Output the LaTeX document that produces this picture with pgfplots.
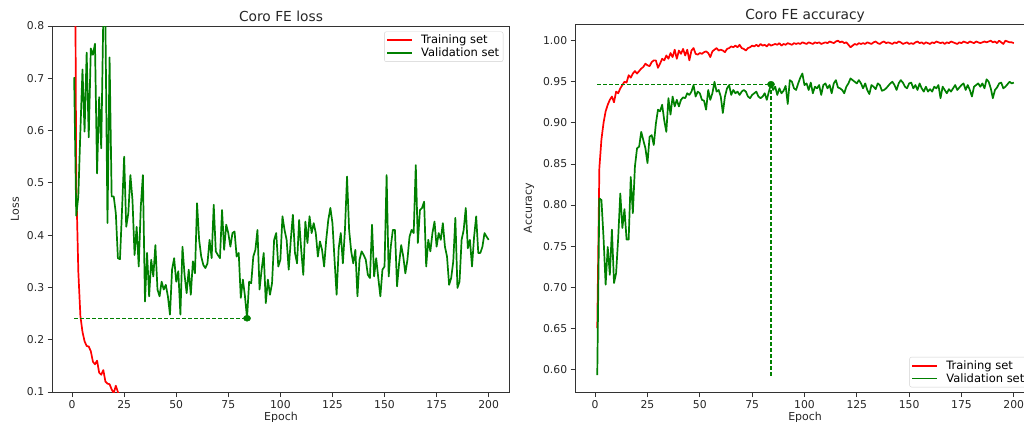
\documentclass[border=0pt]{standalone}
\usepackage{fontspec}
\setmainfont{DejaVu Sans}
\usepackage{pgfplots}
\pgfplotsset{compat=1.18}
\usepackage{pgfplotstable}

\definecolor{mplred}{RGB}{255,0,0}
\definecolor{mplgreen}{RGB}{0,128,0}

% validation loss per epoch
\pgfplotstableread{
ep v
1 0.702
2 0.437
3 0.474
4 0.600
5 0.717
6 0.598
7 0.749
8 0.587
9 0.757
10 0.745
11 0.766
12 0.518
13 0.664
14 0.566
15 0.820
16 0.810
17 0.423
18 0.740
19 0.474
20 0.474
21 0.442
22 0.356
23 0.354
24 0.450
25 0.550
26 0.416
27 0.442
28 0.515
29 0.467
30 0.362
31 0.416
32 0.340
33 0.455
34 0.515
35 0.273
36 0.366
37 0.283
38 0.353
39 0.321
40 0.381
41 0.296
42 0.283
43 0.311
44 0.296
45 0.305
46 0.283
47 0.248
48 0.334
49 0.356
50 0.311
51 0.331
52 0.248
53 0.378
54 0.324
55 0.289
56 0.334
57 0.286
58 0.350
59 0.327
60 0.461
61 0.391
62 0.359
63 0.343
64 0.337
65 0.346
66 0.391
67 0.356
68 0.458
69 0.369
70 0.362
71 0.356
72 0.448
73 0.372
74 0.420
75 0.404
76 0.378
77 0.404
78 0.407
79 0.359
80 0.366
81 0.280
82 0.315
83 0.283
84 0.241
85 0.311
86 0.308
87 0.359
88 0.372
89 0.410
90 0.296
91 0.334
92 0.366
93 0.270
94 0.315
95 0.286
96 0.308
97 0.391
98 0.404
99 0.340
100 0.353
101 0.436
102 0.410
103 0.391
104 0.334
105 0.391
106 0.439
107 0.366
108 0.346
109 0.429
110 0.372
111 0.324
112 0.426
113 0.385
114 0.436
115 0.404
116 0.423
117 0.404
118 0.359
119 0.388
120 0.372
121 0.340
122 0.391
123 0.429
124 0.452
125 0.423
126 0.353
127 0.286
128 0.375
129 0.404
130 0.346
131 0.410
132 0.512
133 0.410
134 0.369
135 0.346
136 0.372
137 0.283
138 0.353
139 0.369
140 0.362
141 0.353
142 0.324
143 0.318
144 0.420
145 0.321
146 0.356
147 0.318
148 0.283
149 0.334
150 0.340
151 0.515
152 0.321
153 0.378
154 0.410
155 0.410
156 0.302
157 0.346
158 0.381
159 0.359
160 0.327
161 0.353
162 0.397
163 0.410
164 0.404
165 0.534
166 0.385
167 0.448
168 0.452
169 0.464
170 0.340
171 0.391
172 0.369
173 0.404
174 0.426
175 0.378
176 0.404
177 0.391
178 0.423
179 0.378
180 0.359
181 0.305
182 0.318
183 0.350
184 0.433
185 0.299
186 0.311
187 0.391
188 0.410
189 0.452
190 0.375
191 0.391
192 0.340
193 0.397
194 0.436
195 0.366
196 0.366
197 0.378
198 0.404
199 0.397
200 0.391
}\vloss

% training / validation accuracy per epoch
\pgfplotstableread{
ep t v
1 0.650 0.593
2 0.845 0.808
3 0.880 0.806
4 0.900 0.760
5 0.914 0.703
6 0.922 0.749
7 0.928 0.715
8 0.932 0.770
9 0.925 0.705
10 0.938 0.717
11 0.936 0.760
12 0.942 0.814
13 0.946 0.772
14 0.950 0.795
15 0.949 0.758
16 0.958 0.758
17 0.955 0.834
18 0.960 0.790
19 0.963 0.847
20 0.960 0.869
21 0.963 0.871
22 0.966 0.889
23 0.968 0.879
24 0.972 0.869
25 0.970 0.851
26 0.969 0.883
27 0.974 0.885
28 0.976 0.873
29 0.976 0.899
30 0.967 0.916
31 0.972 0.914
32 0.978 0.922
33 0.976 0.903
34 0.982 0.889
35 0.978 0.930
36 0.985 0.910
37 0.980 0.932
38 0.989 0.920
39 0.978 0.928
40 0.988 0.920
41 0.984 0.928
42 0.990 0.931
43 0.982 0.930
44 0.989 0.936
45 0.976 0.934
46 0.988 0.938
47 0.991 0.946
48 0.984 0.932
49 0.983 0.938
50 0.985 0.936
51 0.984 0.928
52 0.986 0.927
53 0.987 0.916
54 0.985 0.940
55 0.980 0.928
56 0.987 0.936
57 0.989 0.950
58 0.991 0.938
59 0.988 0.940
60 0.989 0.932
61 0.988 0.912
62 0.986 0.932
63 0.990 0.942
64 0.991 0.946
65 0.993 0.934
66 0.992 0.940
67 0.994 0.936
68 0.992 0.938
69 0.995 0.934
70 0.991 0.938
71 0.990 0.940
72 0.988 0.938
73 0.991 0.932
74 0.992 0.930
75 0.994 0.934
76 0.993 0.936
77 0.995 0.938
78 0.993 0.932
79 0.996 0.930
80 0.994 0.932
81 0.995 0.936
82 0.993 0.928
83 0.996 0.938
84 0.994 0.947
85 0.995 0.940
86 0.996 0.944
87 0.995 0.934
88 0.997 0.942
89 0.994 0.936
90 0.996 0.939
91 0.995 0.945
92 0.997 0.923
93 0.996 0.952
94 0.995 0.950
95 0.997 0.942
96 0.996 0.940
97 0.997 0.948
98 0.996 0.955
99 0.998 0.960
100 0.997 0.946
101 0.996 0.948
102 0.998 0.940
103 0.997 0.949
104 0.996 0.936
105 0.998 0.944
106 0.997 0.942
107 0.998 0.946
108 0.996 0.934
109 0.997 0.946
110 0.998 0.948
111 0.997 0.942
112 0.999 0.946
113 0.998 0.936
114 0.997 0.948
115 0.999 0.952
116 1.000 0.943
117 0.998 0.942
118 0.999 0.940
119 0.997 0.936
120 0.998 0.944
121 0.995 0.948
122 0.992 0.954
123 0.994 0.952
124 0.996 0.950
125 0.995 0.948
126 0.997 0.952
127 0.996 0.948
128 0.997 0.942
129 0.996 0.948
130 0.998 0.940
131 0.997 0.935
132 0.996 0.946
133 0.998 0.944
134 0.999 0.941
135 0.997 0.948
136 0.996 0.946
137 0.998 0.939
138 0.999 0.940
139 0.997 0.942
140 0.998 0.945
141 0.997 0.948
142 0.996 0.950
143 0.998 0.946
144 0.997 0.940
145 0.999 0.948
146 0.998 0.952
147 0.996 0.949
148 0.997 0.944
149 0.998 0.942
150 0.996 0.948
151 0.997 0.949
152 0.996 0.942
153 0.998 0.946
154 0.999 0.940
155 0.997 0.948
156 0.998 0.942
157 0.996 0.938
158 0.998 0.944
159 0.997 0.938
160 0.996 0.941
161 0.998 0.938
162 0.997 0.944
163 0.999 0.942
164 0.998 0.946
165 0.997 0.930
166 0.998 0.944
167 0.996 0.940
168 0.998 0.936
169 0.997 0.941
170 0.999 0.938
171 0.998 0.942
172 0.997 0.946
173 0.996 0.940
174 0.998 0.943
175 0.997 0.946
176 0.999 0.948
177 0.998 0.940
178 0.997 0.946
179 0.999 0.940
180 0.998 0.932
181 0.997 0.944
182 0.999 0.946
183 0.998 0.948
184 0.997 0.944
185 0.998 0.948
186 0.999 0.942
187 0.998 0.953
188 0.999 0.950
189 1.000 0.942
190 0.998 0.930
191 0.999 0.940
192 0.997 0.943
193 1.000 0.948
194 0.998 0.949
195 0.996 0.942
196 1.000 0.944
197 0.999 0.947
198 0.998 0.950
199 0.998 0.948
200 0.997 0.949
}\accdata

\pgfplotsset{
  mplaxis/.style={
    scale only axis,
    axis line style={black!80, line width=0.8pt},
    tick align=outside,
    major tick length=5pt,
    tick style={black!80, line width=0.8pt},
    xtick={0,25,...,200},
    xmin=-9.3, xmax=209.9,
    ytick pos=left, xtick pos=bottom,
    /pgf/number format/assume math mode=true,
    tick label style={font=\fontsize{10.8}{12}\selectfont, text=black!85},
    label style={font=\fontsize{11}{12}\selectfont, text=black!85},
    title style={font=\fontsize{13.8}{15}\selectfont, text=black!85, anchor=base, at={(axis description cs:0.5,1)}, yshift=-1pt},
    x label style={at={(axis description cs:0.5,0)}, anchor=base, yshift=-28pt},
    legend style={font=\fontsize{11.5}{13}\selectfont, draw=black!18, rounded corners=2pt,
      fill=white, inner xsep=2pt, inner ysep=1.5pt, row sep=-1.5pt,
      nodes={inner sep=2pt}},
    legend cell align=left,
    legend image code/.code={\draw[#1] (0pt,0pt) -- (25pt,0pt); \path (31pt,0pt);},
  },
  mline/.style={line width=1.7pt, line join=round},
  mdash/.style={mplgreen, line width=1.1pt, dash pattern=on 4pt off 2pt, forget plot},
}

\begin{document}
\begin{tikzpicture}[x=1pt,y=1pt]
% ---- loss ----
\begin{axis}[mplaxis,
  at={(52.7pt,29pt)}, anchor=south west,
  width=456.6pt, height=366pt,
  ymin=0.1, ymax=0.8,
  ytick={0.1,0.2,...,0.8},
  yticklabel style={/pgf/number format/fixed, /pgf/number format/precision=1},
  title={Coro FE loss},
  xlabel={Epoch}, ylabel={Loss},
  y label style={at={(axis description cs:-0.0826,0.5)}, anchor=center},
  legend style={at={(axis description cs:1,1)}, anchor=north east, xshift=-6pt, yshift=-5.5pt},
]
\addplot[mplred, mline] coordinates {
 (1,1.350) (2,0.500) (3,0.330) (4,0.245) (5,0.215) (6,0.197) (7,0.188) (8,0.187)
 (9,0.178) (10,0.158) (11,0.153) (12,0.160) (13,0.137) (14,0.133) (15,0.142)
 (16,0.120) (17,0.116) (18,0.115) (19,0.105) (20,0.098) (21,0.112) (22,0.100)
 (23,0.092) (24,0.090) (25,0.085)
};
\addlegendentry{Training set}
\addplot[mplgreen, mline] table[x=ep, y=v] {\vloss};
\addlegendentry{Validation set}
\addplot[mdash] coordinates {(1,0.241) (84,0.241)};
\addplot[mplgreen, only marks, mark=*, mark size=3pt, mark options={xscale=1.2}, forget plot] coordinates {(84,0.241)};
\end{axis}

% ---- accuracy ----
\begin{axis}[mplaxis,
  at={(575.7pt,29pt)}, anchor=south west,
  width=458.8pt, height=368pt,
  ymin=0.5724, ymax=1.0203,
  ytick={0.60,0.65,...,1.0},
  yticklabel style={/pgf/number format/fixed, /pgf/number format/fixed zerofill, /pgf/number format/precision=2},
  title={Coro FE accuracy},
  xlabel={Epoch}, ylabel={Accuracy},
  y label style={at={(axis description cs:-0.1018,0.5)}, anchor=center},
  legend style={at={(axis description cs:1,0)}, anchor=south east, xshift=-6pt, yshift=4.7pt},
]
\addplot[mplred, mline] table[x=ep, y=t] {\accdata};
\addlegendentry{Training set}
\addplot[mplgreen, mline] table[x=ep, y=v] {\accdata};
\addlegendentry{Validation set}
\addplot[mdash] coordinates {(1,0.947) (84,0.947)};
\addplot[mdash] coordinates {(84,0.592) (84,0.947)};
\addplot[mplgreen, only marks, mark=*, mark size=3pt, mark options={xscale=1.2}, forget plot] coordinates {(84,0.947)};
\end{axis}

\pgfresetboundingbox
\path[use as bounding box] (0,0) rectangle (1024,421);
\end{tikzpicture}
\end{document}
